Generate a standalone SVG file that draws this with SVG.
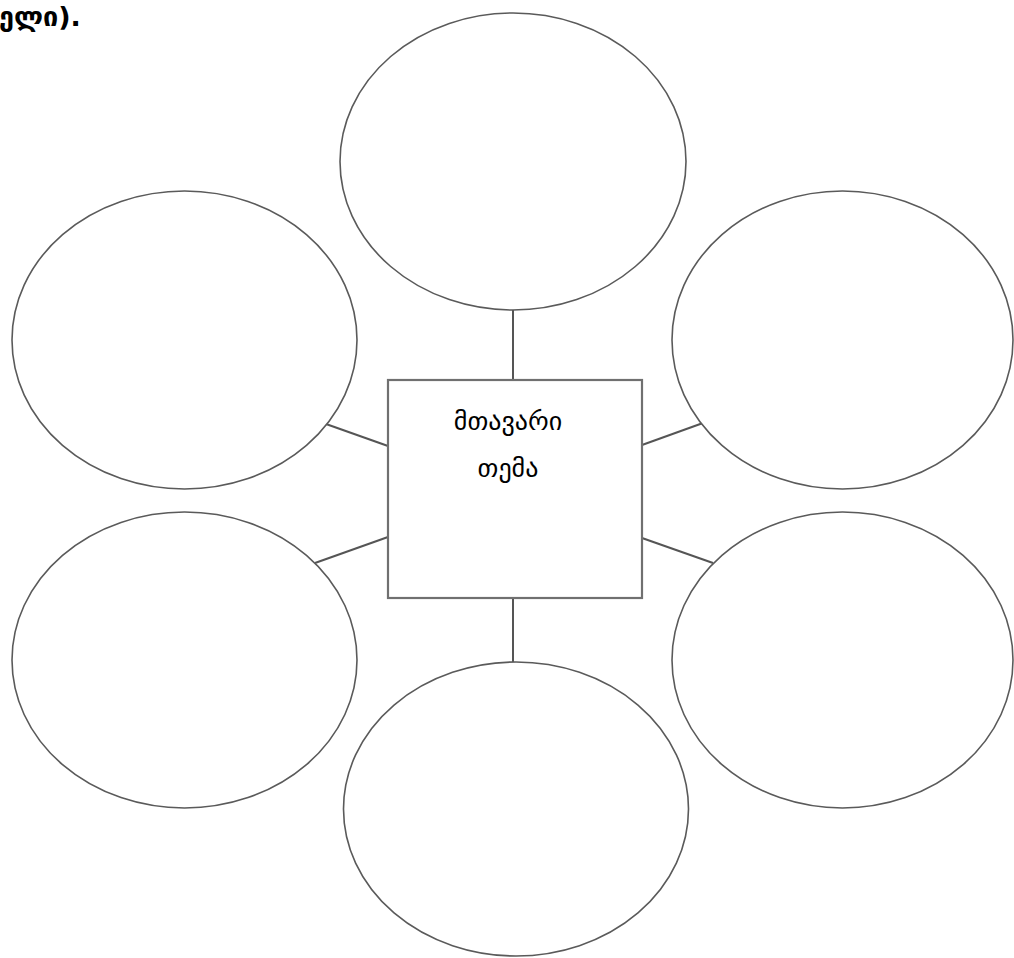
<svg xmlns="http://www.w3.org/2000/svg" width="1014" height="958" viewBox="0 0 1014 958">
<style>
.bubble{fill:#fff;stroke:#5a5a5a;stroke-width:1.6}
.box{fill:#fff;stroke:#707070;stroke-width:2.2}
.conn line{stroke:#555;stroke-width:2}
.lbl{font-family:"DejaVu Sans","Noto Sans",sans-serif;font-size:26px;fill:#000;text-anchor:middle}
.head{font-family:"DejaVu Sans","Noto Sans",sans-serif;font-size:27px;font-weight:bold;fill:#000}
</style>
<rect width="1014" height="958" fill="#fff"/>
<text class="head" x="-1" y="26">ელი).</text>
<g id="connectors" class="conn">
<line x1="513" y1="310" x2="513" y2="380"/>
<line x1="513" y1="598" x2="513" y2="662"/>
<line x1="326" y1="424" x2="388" y2="446"/>
<line x1="315" y1="563" x2="388" y2="537"/>
<line x1="642" y1="445" x2="703" y2="423"/>
<line x1="642" y1="538" x2="713" y2="563"/>
</g>
<g id="n-top"><ellipse class="bubble" cx="513" cy="161.5" rx="173" ry="148.5"/></g>
<g id="n-upper-left"><ellipse class="bubble" cx="184.5" cy="340" rx="172.5" ry="149"/></g>
<g id="n-lower-left"><ellipse class="bubble" cx="184.5" cy="660" rx="172.5" ry="148"/></g>
<g id="n-upper-right"><ellipse class="bubble" cx="842.5" cy="340" rx="170.5" ry="149"/></g>
<g id="n-lower-right"><ellipse class="bubble" cx="842.5" cy="660" rx="170.5" ry="148"/></g>
<g id="n-bottom"><ellipse class="bubble" cx="516" cy="809" rx="172.5" ry="147"/></g>
<g id="n-center">
<rect class="box" x="388" y="380" width="254" height="218"/>
<text class="lbl" x="508" y="430">მთავარი</text>
<text class="lbl" x="508" y="477">თემა</text>
</g>
</svg>
